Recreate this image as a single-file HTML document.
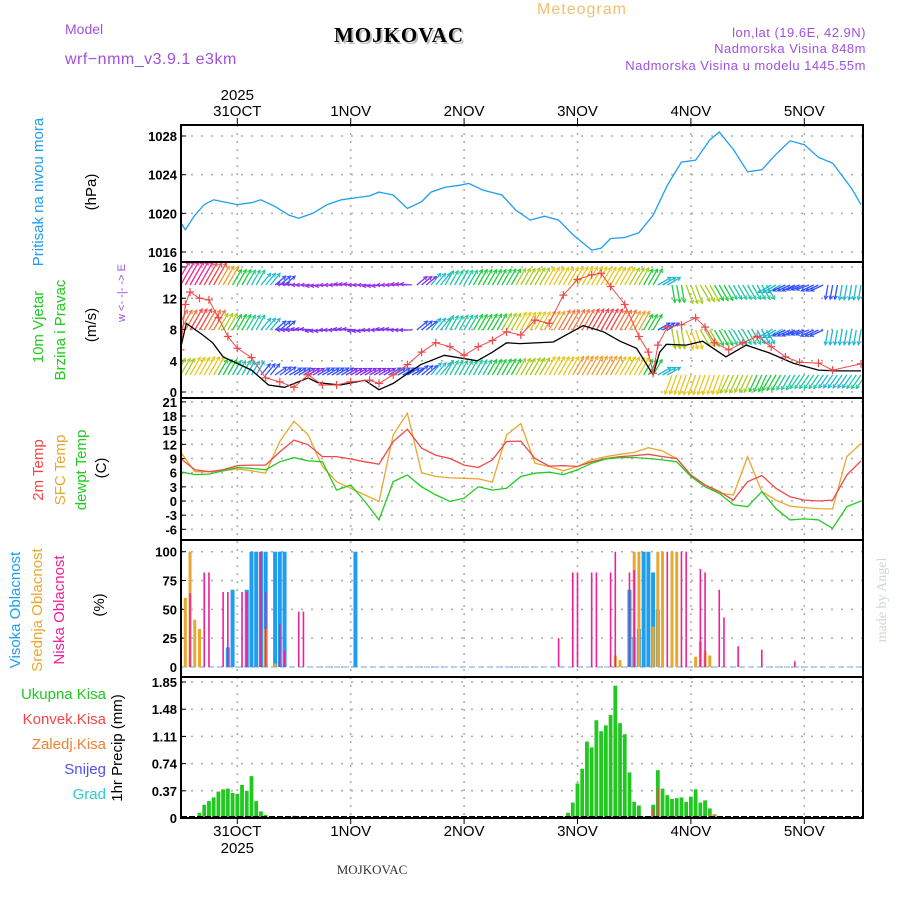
<!DOCTYPE html>
<html><head><meta charset="utf-8"><style>
body{margin:0;background:#fff;width:900px;height:900px;overflow:hidden}
svg{display:block}
text{font-family:"Liberation Sans",sans-serif}
.tk{font-size:13px;font-weight:bold;fill:#000;text-anchor:end}
.dt{font-size:15px;fill:#000;text-anchor:middle}
</style></head><body>
<svg id="c" width="900" height="900" viewBox="0 0 900 900">
<text x="65" y="34" font-size="14" fill="#a050e0">Model</text>
<text x="65" y="64" font-size="16" fill="#a050e0" letter-spacing="0.5">wrf−nmm_v3.9.1  e3km</text>
<text x="401" y="44" font-size="21" font-weight="bold" letter-spacing="1" style="font-family:'Liberation Serif',serif" fill="#bbb" text-anchor="middle">MOJKOVAC</text>
<text x="399" y="42" font-size="21" font-weight="bold" letter-spacing="1" style="font-family:'Liberation Serif',serif" fill="#000" text-anchor="middle">MOJKOVAC</text>
<text x="582" y="14" font-size="16" fill="#f0c070" text-anchor="middle" letter-spacing="1">Meteogram</text>
<text x="866" y="37" font-size="13" fill="#a050e0" text-anchor="end" letter-spacing="0.5">lon,lat (19.6E, 42.9N)</text>
<text x="866" y="53" font-size="13" fill="#a050e0" text-anchor="end" letter-spacing="0.5">Nadmorska Visina 848m</text>
<text x="866" y="70" font-size="13" fill="#a050e0" text-anchor="end" letter-spacing="0.5">Nadmorska Visina u modelu 1445.55m</text>
<text x="372" y="874" font-size="13" style="font-family:'Liberation Serif',serif" fill="#333" text-anchor="middle">MOJKOVAC</text>
<text transform="translate(886,600) rotate(-90)" font-size="14" style="font-family:'Liberation Serif',serif" fill="#ccd8cc" text-anchor="middle">made by Angel</text>
<g id="labels" font-size="15"></g>
<g id="plot"></g>
</svg>
<script>
// ---------- data ----------
const dayLabels=["31OCT","1NOV","2NOV","3NOV","4NOV","5NOV"];
const dayHours=[12,36,60,84,108,132];
const presTicks=[1016,1020,1024,1028];
const windTicks=[0,4,8,12,16];
const tempTicks=[-6,-3,0,3,6,9,12,15,18,21];
const cloudTicks=[0,25,50,75,100];
const precTicks=[0,0.37,0.74,1.11,1.48,1.85];

const presHours=[0,1,3,5,7,9,12,15,17,20,23,25,28,31,34,37,40,42,45,48,51,53,56,59,61,64,68,71,74,77,80,83,87,89,91,94,97,100,103,106,109,112,114,117,120,123,126,129,132,135,138,142,144];
const presVals=[1019.1,1018.3,1019.8,1020.9,1021.4,1021.2,1020.9,1021.1,1021.4,1020.7,1019.8,1019.5,1020.0,1020.9,1021.4,1021.6,1021.8,1022.2,1021.9,1020.5,1021.2,1022.2,1022.7,1022.9,1023.1,1022.4,1021.9,1020.3,1019.3,1019.7,1019.3,1017.8,1016.2,1016.4,1017.4,1017.5,1018.0,1019.8,1022.9,1025.3,1025.5,1027.6,1028.4,1026.6,1024.3,1024.5,1026.1,1027.5,1027.1,1025.8,1025.2,1022.6,1020.9];

const t3Hours=[0,3,6,9,12,15,18,21,24,27,30,33,36,39,42,45,48,51,54,57,60,63,66,69,72,75,78,81,84,87,90,93,96,99,102,105,108,111,114,117,120,123,126,129,132,135,138,141,144];
const t2m=[9.0,6.6,6.2,6.6,7.5,7.6,7.6,10.4,12.9,11.9,9.4,9.4,8.9,8.3,7.8,12.6,15.2,11.2,9.7,9.0,7.6,7.1,8.7,12.6,12.7,9.0,7.4,7.5,7.3,8.3,9.0,9.4,9.6,9.9,9.4,9.0,5.5,3.4,2.0,0.2,4.1,5.4,2.7,0.9,0.2,0,0.2,5.5,8.5];
const tSfc=[10.4,6.2,6.2,6.4,6.8,6.4,5.9,12.6,16.9,14.0,7.3,4.1,2.7,1.3,-0.1,14.0,18.6,6.0,5.2,4.9,4.8,4.7,4.0,14.0,16.4,8.0,7.3,6.4,7.3,8.7,9.4,9.9,10.3,11.3,10.6,9.0,5.5,3.4,1.6,1.3,9.4,2.0,0.2,-1.1,-1.4,-1.6,-1.7,9.4,12.2];
const tDew=[6.2,5.6,5.7,6.4,7.1,6.9,6.6,8.3,9.2,8.5,8.3,2.3,3.4,-0.1,-4.0,4.1,5.5,3.0,1.3,-0.1,0.6,3.0,2.3,2.7,5.2,5.9,6.1,5.6,6.6,8.0,8.9,9.2,9.2,9.0,8.7,8.3,5.2,3.0,1.6,-0.8,-1.2,2.0,-1.6,-4.0,-3.8,-4.0,-5.8,-1.2,0];

const wsHours=[0,1.2,4.7,6.8,9,15,18.6,22,27,29,33.8,39,42,45,50.8,55.8,62.8,66,69,71.8,78.9,85.2,89.5,93,96.5,100,101.4,102.8,107,110.5,115.4,119.7,124.6,129.6,135,138.6,144];
const wsVals=[5.6,8.8,7.3,6.3,4.5,2.8,0.9,0.6,1.8,1.2,0.9,1.5,0.3,1.1,3.5,4.7,4.0,5.1,6.3,6.2,6.4,8.5,7.7,6.5,5.6,2.2,5.1,6.1,6.0,6.5,4.5,6.0,5.0,3.7,2.8,2.7,2.7];
const gustHours=[0,1,2,4,6,8,10,12,15,18,21,24,27,30,33,36,40,42,45,48,51,54,57,60,63,66,69,72,75,78,81,84,87,89,91,94,97,99,100,101,103,106,109,111,113,116,119,122,125,128,131,135,138,144];
const gustVals=[5.4,11.2,12.8,12,11.8,9.5,7.1,5.6,4.4,1.8,1.3,0.6,2.2,0.9,0.9,1.3,1.5,1.1,2.2,3.5,5.1,6.3,5.8,4.7,5.8,6.6,7.7,7.3,9.2,8.8,12.4,14.4,15.0,15.2,13.5,11.2,7.1,5.1,2.4,6.0,8.3,8.6,9.5,8.3,6.3,5.4,6.3,7.1,5.8,4.5,3.8,3.7,2.8,3.6];

const windTopSpd=[13,13,12,9,6,5.5,4,3,2,1.5,1.5,1.5,1.5,1.5,1.5,1.5,1.5,2.5,4,5,5.5,6,6,6.5,7,7.5,8,8,8.5,8.5,8,8,7.5,6.5,4,6,7.5,7,6,5,5,5,4,3,3,3,3.5,4,4];
const windTopDir=[60,60,60,60,60,60,50,40,175,180,185,180,175,180,185,180,175,40,50,60,60,60,60,60,60,60,60,60,60,60,60,60,60,60,30,-80,-70,-60,-60,-60,-60,-60,210,205,200,205,-100,-100,-100];
const windMidSpd=[10,11,10,7,6,5.5,4,3,2,2,2,2,2,2,2,2,2,3,4,5,5.5,6,6.5,7,8,8.5,9,10,10.5,11,11,10,9,6,3,7,8,7,6,5.5,5,4.5,4,3,3,3.5,4,4,4];
const windMidDir=[60,60,60,60,60,60,50,40,180,175,185,180,175,185,180,175,180,40,50,60,60,60,60,60,60,60,60,60,60,60,60,60,60,60,30,-80,-70,-60,-60,-60,-60,-60,210,205,200,205,-100,-100,-100];
const windLowSpd=[7,8,8.5,6,5,4.5,3.5,3,3,2.5,3,3,2.5,2.5,2.5,3,3,3.5,4.5,5,5,5.5,6,6.5,7,7.5,8.5,8.5,9,9,9,8.5,8,6,4,8,8.5,8.5,8,7.5,7,6.5,6,5.5,5,5,4.5,4.5,5];
const windLowDir=[60,60,60,60,60,60,50,35,30,30,30,30,30,30,30,30,30,40,50,60,60,60,60,60,60,60,60,60,60,60,60,60,60,60,30,-110,-110,-110,-110,-115,-115,-115,-120,-120,-125,-125,-125,-125,-125];

const cloudHighH=[10,11,14,15,16,17,18,20,21,22,37,95,96,97,98,99,100,101];
const cloudHighV=[17,67,67,100,100,100,100,100,100,100,100,67,26,33,100,100,82,50];
const cloudMidH=[1,2,3,4,18,20,92,93,96,97,100,101,102,104,105,109,110,111,112];
const cloudMidV=[60,100,41,33,33,3,10,6,100,100,35,100,100,100,100,9,22,14,10];
const cloudLowH=[2,5,6,9,10,13,14,17,18,21,22,25,26,80,83,84,87,88,91,92,95,96,103,106,107,110,111,114,115,118,123,130];
const cloudLowV=[64,82,82,65,65,65,65,100,65,37,14,48,48,25,82,82,82,82,82,100,82,84,100,100,100,85,82,67,43,18,15,5];

const precH=[3,4,5,6,7,8,9,10,11,12,13,14,15,16,17,18,24,25,81,82,83,84,85,86,87,88,89,90,91,92,93,94,95,96,97,98,99,100,101,102,103,104,105,106,107,108,109,110,111,112,113];
const precV=[0.01,0.07,0.18,0.23,0.28,0.36,0.39,0.40,0.34,0.33,0.45,0.37,0.57,0.23,0.09,0.04,0.03,0.02,0.02,0.07,0.21,0.47,0.67,1.04,0.96,1.33,1.18,1.26,1.40,1.80,1.29,1.14,0.62,0.22,0.17,0.02,0.02,0.18,0.65,0.40,0.31,0.26,0.27,0.28,0.22,0.29,0.39,0.21,0.24,0.13,0.05];
const konvH=[100,101,109,112];
const konvV=[0.12,0.40,0.03,0.05];
const zaledH=[112,113];
const zaledV=[0.05,0.05];

// ---------- axes ----------
const L=181,R=863;
const X=h=>180.6+4.725*h;
const Yp=p=>252-(p-1016)*(116/12);
const Yw=s=>392-s*(125/16);
const Yt=t=>501-t*4.72;
const Yc=c=>667-c*1.153;
const Yr=r=>818-r*(136/1.85);
const panels=[[125,262],[262,398],[398,540],[540,677],[677,818]];

const NS="http://www.w3.org/2000/svg";
const plot=document.getElementById('plot');
function el(tag,attrs,parent){const e=document.createElementNS(NS,tag);for(const k in attrs)e.setAttribute(k,attrs[k]);(parent||plot).appendChild(e);return e;}

const defs=el('defs',{});
panels.forEach((p,i)=>{const cp=el('clipPath',{id:'cp'+i},defs);el('rect',{x:L,y:p[0],width:R-L,height:p[1]-p[0]},cp);});

function hgrid(vals,fy,lab){vals.forEach(v=>{const y=fy(v);
 const g=el('line',{x1:L,x2:R,y1:y,y2:y,stroke:'#aaa','stroke-width':1.5,'stroke-dasharray':'2,8'});
 
 
 el('line',{x1:L,x2:L+5,y1:y,y2:y,stroke:'#000','stroke-width':1});
 const t=el('text',{x:177,y:y+5,class:'tk'});t.textContent=lab?lab(v):v;
 
 
});}
hgrid(presTicks,Yp);hgrid(windTicks,Yw);hgrid(tempTicks,Yt);hgrid(cloudTicks,Yc);
hgrid(precTicks,Yr,v=>v===0?'0':v.toFixed(2));
dayHours.forEach((h,i)=>{const x=X(h);
 const g=el('line',{x1:x,x2:x,y1:125,y2:818,stroke:'#aaa','stroke-width':1.5,'stroke-dasharray':'2,6'});
 
 
 el('line',{x1:x,x2:x,y1:118,y2:125,stroke:'#000'});
 el('line',{x1:x,x2:x,y1:818,y2:824,stroke:'#000'});
 const t=el('text',{x:x,y:116,class:'dt'});t.textContent=dayLabels[i];
 
 
 const b=el('text',{x:x,y:836,class:'dt'});b.textContent=dayLabels[i];
 
 
});
{const t=el('text',{x:X(12),y:100,class:'dt'});t.textContent='2025';
 
 
 const b=el('text',{x:X(12),y:853,class:'dt'});b.textContent='2025';
 
 }

function line(hs,vs,fy,color,clip,w){const pts=hs.map((h,i)=>X(h).toFixed(1)+','+fy(vs[i]).toFixed(1)).join(' ');
 return el('polyline',{points:pts,fill:'none',stroke:color,'stroke-width':w||1.3,'clip-path':'url(#cp'+clip+')'});}

{const p=line(presHours,presVals,Yp,'#1e9ef0',0,1.3);
 
 }

function spdColor(s){const st=[[0,'#9a30e8'],[2,'#8030f0'],[3,'#3050ff'],[4,'#20b8d0'],[5,'#20c8a0'],[6,'#20cc40'],[7,'#a8cc20'],[8,'#e6c820'],[9,'#f0a030'],[10,'#f07840'],[11,'#f04848'],[13,'#f02890']];
 let c=st[0][1];st.forEach(a=>{if(s>=a[0])c=a[1];});return c;}
function arrows(spd,dir,base,name){const g=el('g',{'clip-path':'url(#cp1)'});
 
 
 t3Hours.forEach((h,i)=>{const len=10+spd[i]*1.3;const a=dir[i]*Math.PI/180;const c=spdColor(spd[i]);
  for(let k=0;k<3;k++){const x0=X(h+k-1),y0=base;const x1=x0+len*Math.cos(a),y1=y0-len*Math.sin(a);
   el('line',{x1:x0,y1:y0,x2:x1,y2:y1,stroke:c,'stroke-width':1.3},g);
   const b=Math.atan2(y1-y0,x1-x0);
   el('polyline',{points:`${x1-4*Math.cos(b-0.5)},${y1-4*Math.sin(b-0.5)} ${x1},${y1} ${x1-4*Math.cos(b+0.5)},${y1-4*Math.sin(b+0.5)}`,fill:'none',stroke:c,'stroke-width':1},g);}
 });}
arrows(windTopSpd,windTopDir,285,'wind-arrows-top');
arrows(windMidSpd,windMidDir,330,'wind-arrows-mid');
arrows(windLowSpd,windLowDir,375,'wind-arrows-low');
{const w=line(wsHours,wsVals,Yw,'#000',1,1.3);
 
 
 const g=line(gustHours,gustVals,Yw,'#f04848',1,1);
 
 
 gustHours.forEach((h,i)=>{const x=X(h),y=Yw(gustVals[i]);
  const m=el('path',{d:`M${x-4},${y}h8M${x},${y-4}v8`,stroke:'#f04848','stroke-width':1.2,'clip-path':'url(#cp1)'});
  
  });}

[[tSfc,'#e8a830','sfc-temp-line'],[t2m,'#f04848','2m-temp-line'],[tDew,'#20cc20','dewpoint-line']].forEach(s=>{
 const p=line(t3Hours,s[0],Yt,s[1],2,1.3);
 
 });

{const b=el('line',{x1:L,x2:R,y1:667,y2:667,stroke:'#a0c8f0','stroke-width':1.5,'stroke-dasharray':'6,3'});
 
 }
function bars(hs,vs,fy,y0,w,color,name,clip){hs.forEach((h,i)=>{const y=fy(vs[i]);
 const r=el('rect',{x:X(h)-w/2,y:y,width:w,height:Math.max(y0-y,0),fill:color,'clip-path':'url(#cp'+clip+')'});
 
 });}
bars(cloudHighH,cloudHighV,Yc,667,4,'#1e9ef0','high-cloud-bar',3);
bars(cloudMidH,cloudMidV,Yc,667,3,'#e8a830','mid-cloud-bar',3);
bars(cloudLowH,cloudLowV,Yc,667,1.6,'#f0209a','low-cloud-bar',3);

bars(precH,precV,Yr,818,3.8,'#20c820','total-precip-bar',4);
bars(konvH,konvV,Yr,818,2,'#f04848','convective-precip-bar',4);
bars(zaledH,zaledV,Yr,818,2,'#f08030','freezing-precip-bar',4);
el('line',{x1:L,x2:R,y1:817,y2:817,stroke:'#000','stroke-width':2,'stroke-dasharray':'6,2'});

panels.forEach((p,i)=>{const r=el('rect',{x:L,y:p[0],width:R-L,height:p[1]-p[0],fill:'none',stroke:'#000','stroke-width':2});
 
 });

const lab=document.getElementById('labels');
function vt(x,y,txt,color,name,size){const t=el('text',{transform:`translate(${x},${y}) rotate(-90)`,fill:color,'text-anchor':'middle','font-size':size||15},lab);t.textContent=txt;
 
 }
vt(43,192,'Pritisak na nivou mora','#1e9ef0','pressure-axis-title');
vt(96,192,'(hPa)','#000','pressure-unit');
vt(43,327,'10m Vjetar','#20cc20','wind-axis-title');
vt(65,330,'Brzina i Pravac','#20cc20','wind-axis-subtitle');
vt(96,325,'(m/s)','#000','wind-unit');
vt(125,293,'w <- -|- -> E','#a050e0','wind-direction-legend',11);
vt(43,470,'2m Temp','#f04848','temp-2m-title');
vt(65,470,'SFC Temp','#e8a830','temp-sfc-title');
vt(86,470,'dewpt Temp','#20cc20','temp-dew-title');
vt(106,468,'(C)','#000','temp-unit');
vt(20,610,'Visoka Oblacnost','#1e9ef0','high-cloud-title');
vt(42,610,'Srednja Oblacnost','#e8a830','mid-cloud-title');
vt(64,610,'Niska Oblacnost','#f0209a','low-cloud-title');
vt(104,605,'(%)','#000','cloud-unit');
vt(122,748,'1hr Precip (mm)','#000','precip-axis-title');
[['Ukupna  Kisa','#20c820',699],['Konvek.Kisa','#f04848',724],['Zaledj.Kisa','#f08030',749],['Snijeg','#5050f0',774],['Grad','#30c8d0',799]].forEach(a=>{
 const t=el('text',{x:106,y:a[2],fill:a[1],'text-anchor':'end','font-size':15},lab);t.textContent=a[0];
 
 });
</script>
</body></html>
